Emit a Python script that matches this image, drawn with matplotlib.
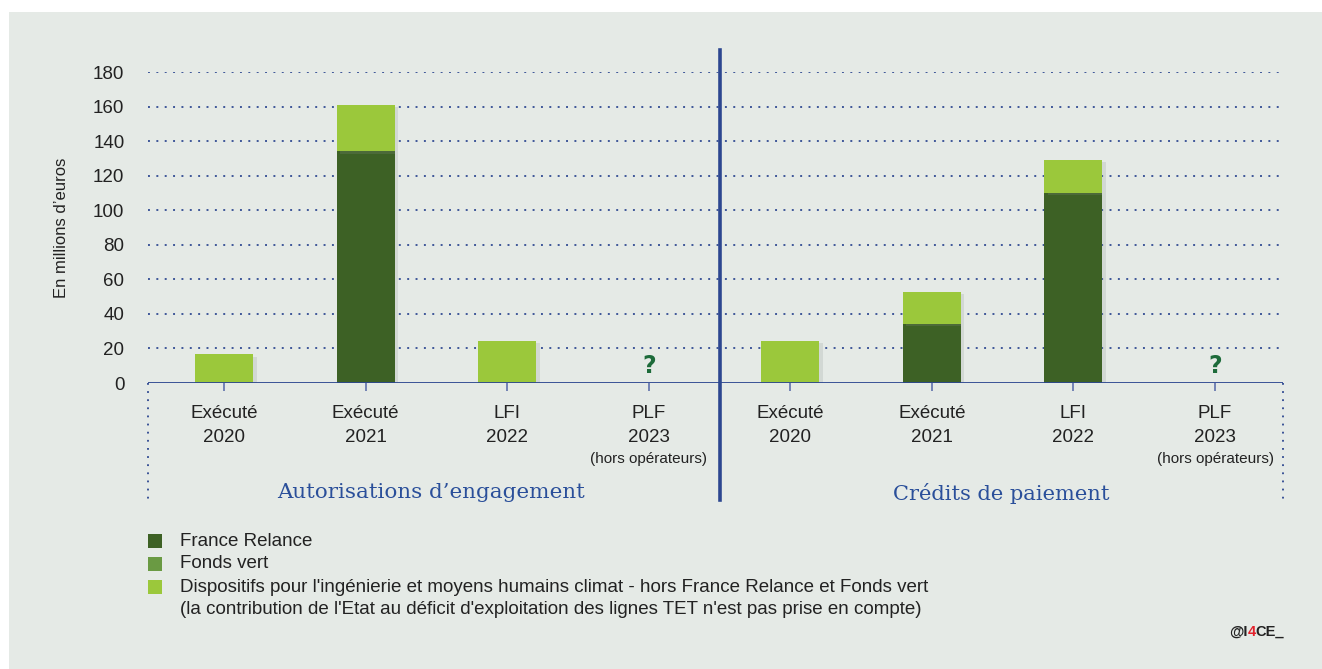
import matplotlib
matplotlib.use("Agg")
import matplotlib.pyplot as plt
from matplotlib.patches import Rectangle
from matplotlib import font_manager
import matplotlib.patheffects as pe

# ---------------- data ----------------
categories_line1 = ["Exécuté", "Exécuté", "LFI", "PLF", "Exécuté", "Exécuté", "LFI", "PLF"]
categories_line2 = ["2020", "2021", "2022", "2023", "2020", "2021", "2022", "2023"]
categories_line3 = ["", "", "", "(hors opérateurs)", "", "", "", "(hors opérateurs)"]
groups = ["Autorisations d\u2019engagement", "Crédits de paiement"]
france_relance = [0, 134, 0, 0, 0, 34, 110, 0]
fonds_vert = [0, 0, 0, 0, 0, 0, 0, 0]
dispositifs = [16.5, 27, 24.5, 0, 24.5, 18.5, 19, 0]
unknown = [False, False, False, True, False, False, False, True]
yticks = [0, 20, 40, 60, 80, 100, 120, 140, 160, 180]
legend_labels = ["France Relance", "Fonds vert",
                 "Dispositifs pour l'ingénierie et moyens humains climat - hors France Relance et Fonds vert",
                 "(la contribution de l'Etat au déficit d'exploitation des lignes TET n'est pas prise en compte)"]

# ---------------- style ----------------
W, H = 1322, 669
C_DARK = "#3d6125"
C_MID = "#6a9a43"
C_LIGHT = "#9bc83b"
NAVY = "#2c4790"
TXT = "#222222"
BG = "#e5eae6"

installed = {f.name for f in font_manager.fontManager.ttflist}
SANS = "Liberation Sans"
NARROW = "Liberation Sans Narrow" if "Liberation Sans Narrow" in installed else "Liberation Sans"

fig = plt.figure(figsize=(W / 100, H / 100), dpi=100)
fig.patch.set_facecolor("white")
fig.patches.append(Rectangle((9 / W, 0), 1 - 9 / W, (H - 12) / H, transform=fig.transFigure,
                             facecolor=BG, edgecolor="none", zorder=-10))

def px2fig(x, y):
    return x / W, 1 - y / H

x_left, x_right, y_top, y_zero = 148, 1283, 72, 383
ax = fig.add_axes([x_left / W, 1 - y_zero / H, (x_right - x_left) / W, (y_zero - y_top) / H])
ax.set_facecolor("none")
ax.set_xlim(-0.537, 7.48)
ax.set_ylim(0, 180)
for s in ax.spines.values():
    s.set_visible(False)

def ay(ypix):
    return (y_zero - ypix) / (y_zero - y_top)

# gridlines
for v in yticks[1:]:
    ax.axhline(v, color=NAVY, lw=1.4, ls=(0, (1, 3.3)), alpha=0.9, zorder=1)
ax.axhline(0, color=NAVY, lw=1.3, zorder=4)

xpos = list(range(len(categories_line1)))
shadow = [pe.SimplePatchShadow(offset=(2.5, -1.5), shadow_rgbFace="#8a908c", alpha=0.2), pe.Normal()]
bw = 0.41
b1 = ax.bar(xpos, france_relance, bw, color=C_DARK, zorder=3, label=legend_labels[0])
b2 = ax.bar(xpos, fonds_vert, bw, bottom=france_relance, color=C_MID, zorder=3)
bottom2 = [a + b for a, b in zip(france_relance, fonds_vert)]
b3 = ax.bar(xpos, dispositifs, bw, bottom=bottom2, color=C_LIGHT, zorder=3)
for bars in (b1, b2, b3):
    for r in bars:
        if r.get_height() > 0:
            r.set_path_effects(shadow)

for x, u in zip(xpos, unknown):
    if u:
        ax.text(x, 3, "?", ha="center", va="bottom", fontsize=17, fontweight="bold",
                color="#1d6b3a", family="DejaVu Sans", zorder=5)

# ticks
ax.set_xticks(xpos)
ax.set_xticklabels([])
ax.tick_params(axis="x", length=6, width=1.3, color="#6a7bb0", direction="out")
ax.set_yticks(yticks)
ax.set_yticklabels([str(v) for v in yticks], fontsize=13.5, color=TXT, family=SANS)
ax.tick_params(axis="y", length=0, pad=17)

tr = ax.get_xaxis_transform()
for x, l1, l2, l3 in zip(xpos, categories_line1, categories_line2, categories_line3):
    ax.text(x, ay(413), l1, transform=tr, ha="center", va="center", fontsize=13.5, color=TXT, family=SANS)
    ax.text(x, ay(437), l2, transform=tr, ha="center", va="center", fontsize=13.5, color=TXT, family=SANS)
    if l3:
        ax.text(x, ay(459), l3, transform=tr, ha="center", va="center",
                fontsize=13 if NARROW != SANS else 11, color=TXT, family=NARROW)

# separator and side dotted lines
ax.plot([3.5, 3.5], [ay(50), ay(500)], transform=tr, color=NAVY, lw=2.6, clip_on=False, zorder=5)
ax.plot([0, 0], [0, ay(500)], transform=ax.transAxes, color=NAVY, lw=1.3, ls=(0, (1, 3.5)), clip_on=False)
ax.plot([1, 1], [0, ay(500)], transform=ax.transAxes, color=NAVY, lw=1.3, ls=(0, (1, 3.5)), clip_on=False)

fig.text(*px2fig(62, 228), "En millions d\u2019euros", rotation=90, ha="center", va="center",
         fontsize=12, color=TXT, family=SANS)

fig.canvas.draw()
renderer = fig.canvas.get_renderer()

def fit_text(t, target_w):
    w = t.get_window_extent(renderer).width
    t.set_fontsize(t.get_fontsize() * target_w / w)

# group titles
g1 = fig.text(*px2fig(431, 493), groups[0], ha="center", va="center", fontsize=17,
              color="#2a4f9a", family="DejaVu Serif")
g2 = fig.text(*px2fig(1001, 493), groups[1], ha="center", va="center", fontsize=17,
              color="#2a4f9a", family="DejaVu Serif")
fit_text(g1, 307)
fit_text(g2, 217)

# legend
probe = fig.text(0, 0, legend_labels[2], fontsize=12, family=SANS)
leg_fs = 12 * 750 / probe.get_window_extent(renderer).width
probe.remove()
leg_colors = [C_DARK, C_MID, C_LIGHT, None]
leg_y = [541, 564, 587, 610]
for c, lab, yy in zip(leg_colors, legend_labels, leg_y):
    if c:
        fig.patches.append(Rectangle(px2fig(148, yy + 7), 14 / W, 14 / H, transform=fig.transFigure,
                                     facecolor=c, edgecolor="none"))
    fig.text(*px2fig(180, yy), lab, ha="left", va="center", fontsize=leg_fs, color=TXT, family=SANS)

# watermark
x0 = 1229
parts = [("@I", TXT), ("4", "#e3212b"), ("CE_", TXT)]
for s, col in parts:
    t = fig.text(*px2fig(x0, 632), s, ha="left", va="center", fontsize=10.5, fontweight="bold",
                 color=col, family=SANS)
    fig.canvas.draw()
    x0 += t.get_window_extent(renderer).width

fig.savefig("out.png", dpi=100, facecolor=fig.get_facecolor())
